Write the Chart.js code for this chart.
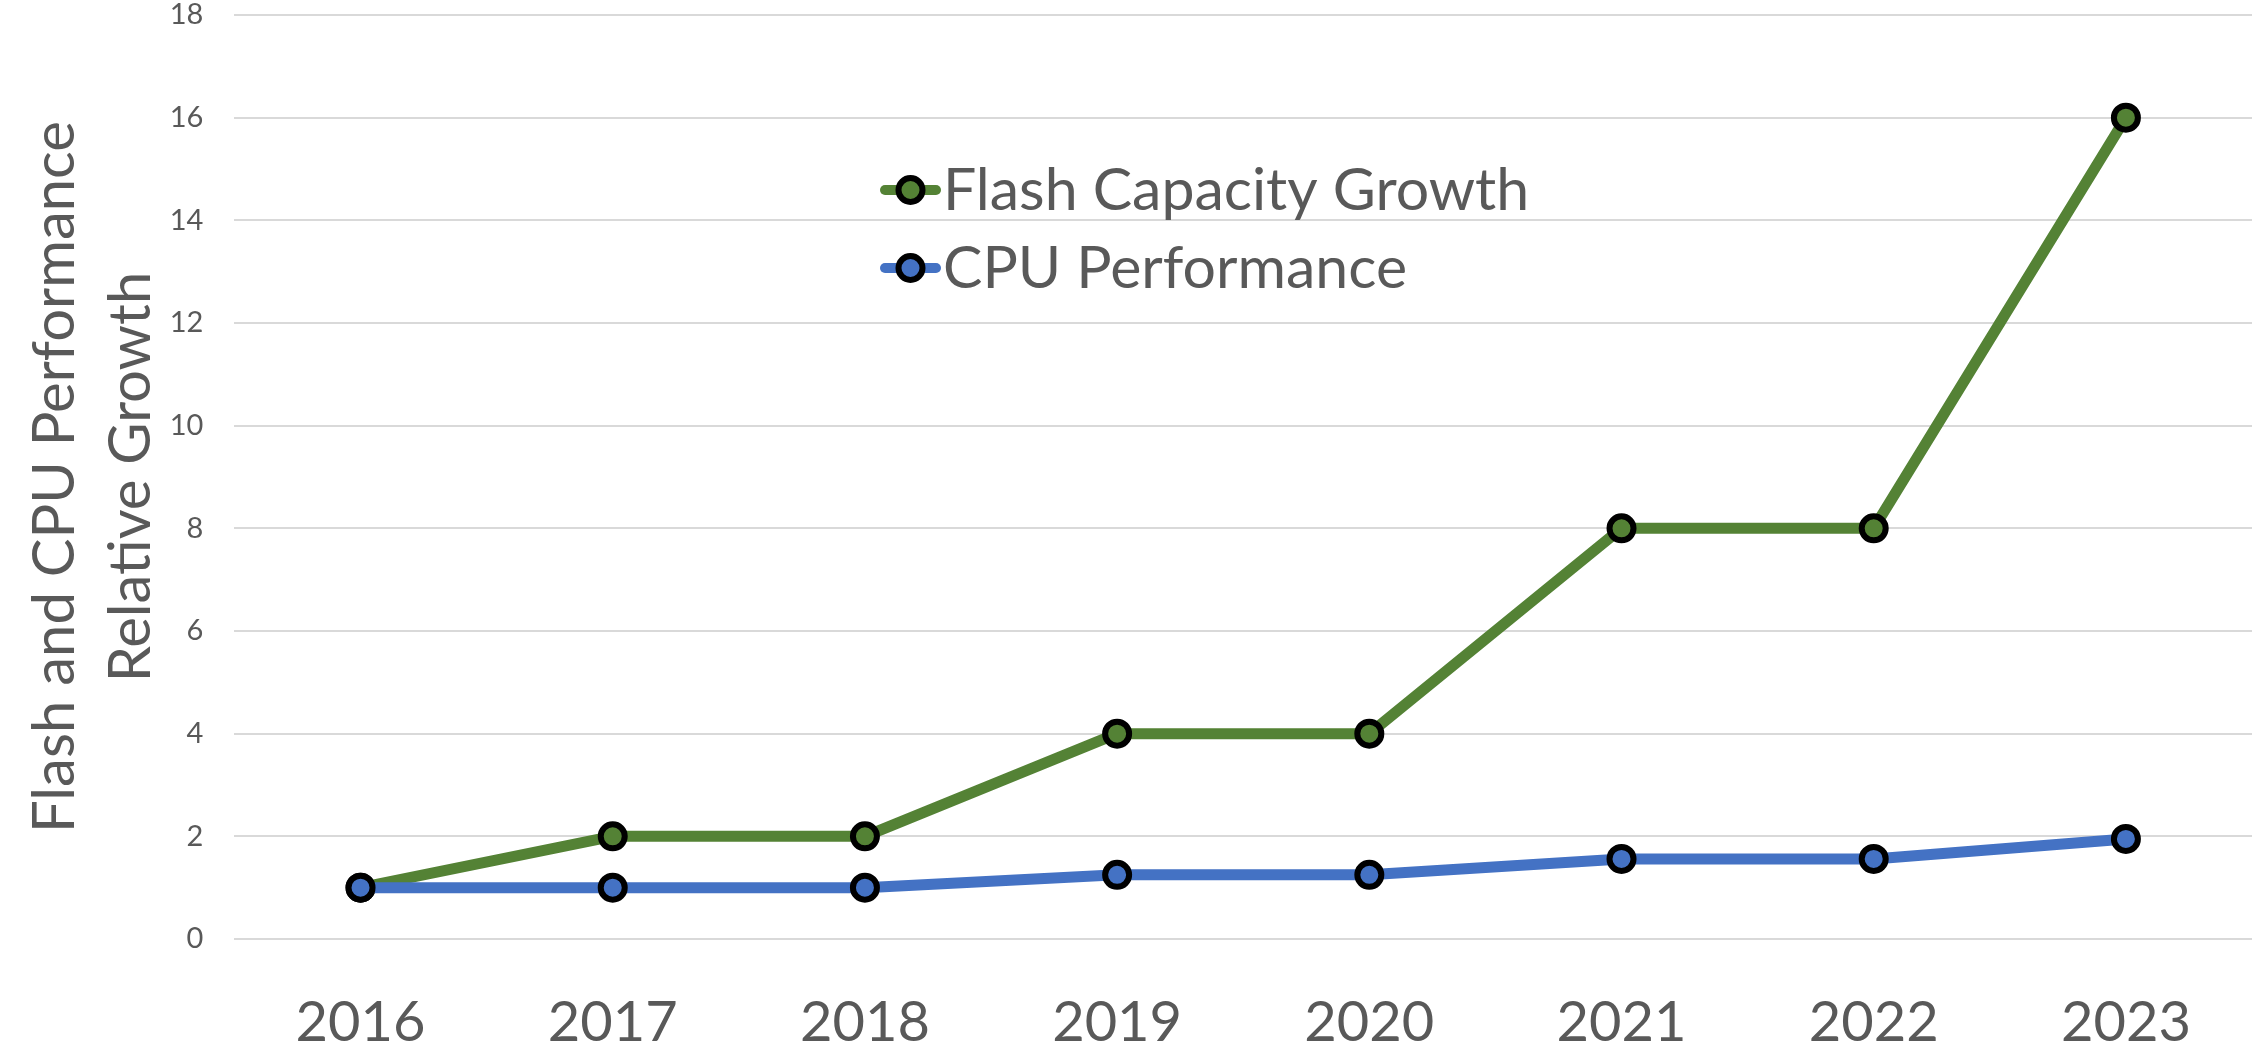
<!DOCTYPE html>
<html>
<head>
<meta charset="utf-8">
<title>Flash and CPU Performance Relative Growth</title>
<script src="https://cdn.jsdelivr.net/npm/chart.js@4.4.1/dist/chart.umd.min.js"></script>
<style>
    body { margin: 0; background: #ffffff; }
    canvas { display: block; }
</style>
</head>
<body>
<canvas id="growthChart" width="2256" height="1048"></canvas>
<script>
// Chart data
const years = ['2016', '2017', '2018', '2019', '2020', '2021', '2022', '2023'];
const flashCapacity = [1, 2, 2, 4, 4, 8, 8, 16];
const cpuPerformance = [1, 1, 1, 1.25, 1.25, 1.56, 1.56, 1.95];
const yTickValues = [0, 2, 4, 6, 8, 10, 12, 14, 16, 18];
const seriesLabels = ['Flash Capacity Growth', 'CPU Performance'];
const axisTitle = ['Flash and CPU Performance', 'Relative Growth'];

const textGrey = '#595959';
const fontFamily = 'Lato, sans-serif';
const markerRadius = 12;
const markerBorder = 6;

// Legend drawn inside the plot, stacked, like the original
const inlineLegend = {
    id: 'inlineLegend',
    afterDraw: function (chart) {
        const ctx = chart.ctx;
        const left = 880, top = 190, rowGap = 78, lineLen = 61;
        chart.data.datasets.forEach(function (ds, i) {
            const y = top + i * rowGap;
            ctx.save();
            // line sample
            ctx.strokeStyle = ds.borderColor;
            ctx.lineWidth = 10;
            ctx.lineCap = 'round';
            ctx.beginPath();
            ctx.moveTo(left + 5, y);
            ctx.lineTo(left + lineLen - 5, y);
            ctx.stroke();
            // marker
            ctx.beginPath();
            ctx.arc(left + lineLen / 2, y, markerRadius, 0, Math.PI * 2);
            ctx.fillStyle = ds.pointBackgroundColor;
            ctx.fill();
            ctx.lineWidth = markerBorder;
            ctx.strokeStyle = ds.pointBorderColor;
            ctx.stroke();
            // label
            ctx.fillStyle = textGrey;
            ctx.font = '59px ' + fontFamily;
            ctx.textBaseline = 'middle';
            ctx.textAlign = 'left';
            ctx.fillText(ds.label, left + lineLen + 2, y + 1);
            ctx.restore();
        });
    }
};

new Chart(document.getElementById('growthChart'), {
    type: 'line',
    data: {
        labels: years,
        datasets: [
            {
                label: seriesLabels[0],
                data: flashCapacity,
                borderColor: '#548235',
                backgroundColor: '#548235',
                pointBackgroundColor: '#548235',
                pointBorderColor: '#000000',
                order: 1
            },
            {
                label: seriesLabels[1],
                data: cpuPerformance,
                borderColor: '#4472c4',
                backgroundColor: '#4472c4',
                pointBackgroundColor: '#4472c4',
                pointBorderColor: '#000000',
                order: 0
            }
        ]
    },
    options: {
        responsive: false,
        animation: false,
        devicePixelRatio: 1,
        layout: { autoPadding: false, padding: { top: 0, right: 4, bottom: 0, left: 18 } },
        elements: {
            line: { borderWidth: 11, tension: 0, borderCapStyle: 'round', borderJoinStyle: 'round' },
            point: { radius: markerRadius, borderWidth: markerBorder, hoverRadius: markerRadius }
        },
        plugins: {
            legend: { display: false },
            tooltip: { enabled: false }
        },
        scales: {
            x: {
                offset: true,
                grid: { display: false, drawTicks: false },
                border: { display: false },
                afterFit: function (scale) { scale.height = 109; },
                ticks: {
                    color: textGrey,
                    padding: 50,
                    font: { family: fontFamily, size: 56 }
                }
            },
            y: {
                min: 0,
                max: 18,
                afterBuildTicks: function (axis) {
                    axis.ticks = yTickValues.map(function (v) { return { value: v }; });
                },
                // the tick padding is otherwise added above the top gridline too
                afterFit: function (scale) { scale.paddingTop = 15; },
                grid: { color: '#d9d9d9', lineWidth: 2, drawTicks: false },
                border: { display: false },
                ticks: {
                    color: textGrey,
                    padding: 31,
                    font: { family: fontFamily, size: 29, lineHeight: 1 }
                },
                title: {
                    display: true,
                    text: axisTitle,
                    color: textGrey,
                    padding: { top: 0, bottom: -30 },
                    font: { family: fontFamily, size: 58, lineHeight: 1.3 }
                }
            }
        }
    },
    plugins: [inlineLegend]
});
</script>
</body>
</html>
